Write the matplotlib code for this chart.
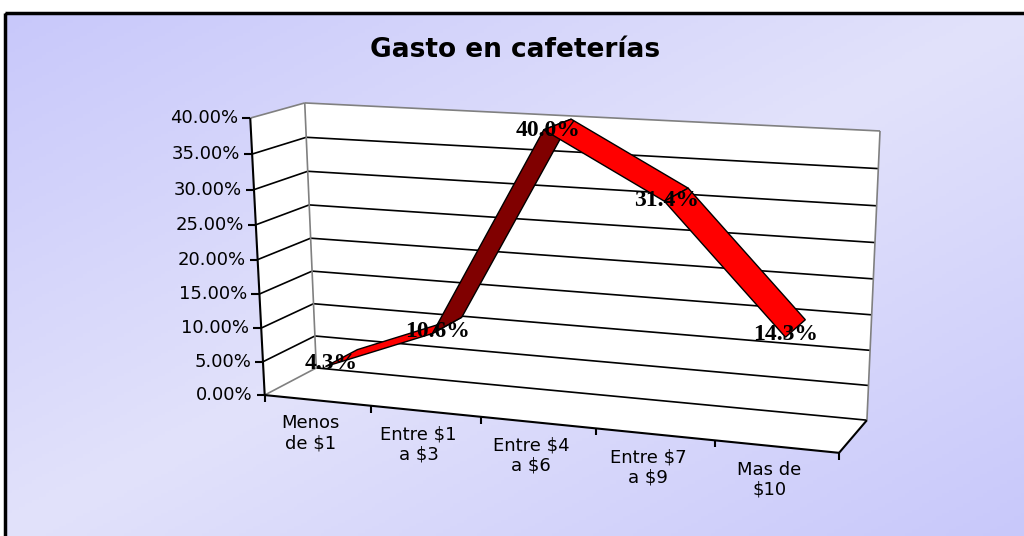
import numpy as np
import matplotlib.pyplot as plt
from matplotlib.patches import Polygon, Rectangle

categorias = ['Menos\nde $1', 'Entre $1\na $3', 'Entre $4\na $6', 'Entre $7\na $9', 'Mas de\n$10']
porcentajes = [4.3, 10.6, 40.0, 31.4, 14.3]
etiquetas = ['4.3%', '10.6%', '40.0%', '31.4%', '14.3%']
ticks_y = [0, 5, 10, 15, 20, 25, 30, 35, 40]
etiquetas_y = ['0.00%', '5.00%', '10.00%', '15.00%', '20.00%', '25.00%', '30.00%', '35.00%', '40.00%']
ymax = 40.0

# caja 3D: x 0-1 (categorias), y 0-1 (valor/ymax), z 0 frente - 1 fondo
# y donde caen sus esquinas en la imagen (pixeles)
esquinas_3d = np.array([[0, 0, 0], [0, 1, 0], [1, 0, 0], [0, 0, 1],
                        [0, 1, 1], [1, 0, 1], [1, 1, 1]], float)
esquinas_px = np.array([[265, 395], [250, 118], [839, 453], [316, 368],
                        [305, 103], [867, 420], [880, 131]], float)

# camara por DLT
A = []
for (X, Y, Z), (u, v) in zip(esquinas_3d, esquinas_px):
    A.append([X, Y, Z, 1, 0, 0, 0, 0, -u*X, -u*Y, -u*Z, -u])
    A.append([0, 0, 0, 0, X, Y, Z, 1, -v*X, -v*Y, -v*Z, -v])
P = np.linalg.svd(np.array(A))[2][-1].reshape(3, 4)


def proj(x, y, z):
    h = P @ np.array([x, y, z, 1.0])
    return h[0] / h[2], h[1] / h[2]


fig = plt.figure(figsize=(10.24, 5.36), dpi=100)
ax = fig.add_axes([0, 0, 1, 1])
ax.set_xlim(0, 1024)
ax.set_ylim(536, 0)
ax.axis('off')

# fondo degradado del area del grafico
oscuro = np.array([200, 200, 250]) / 255
claro = np.array([226, 226, 250]) / 255
gx, gy = np.meshgrid(np.linspace(0, 1, 300), np.linspace(0, 1, 160))
t = 1 - np.abs(gx + gy - 1)
img = oscuro + (claro - oscuro) * t[..., None]
ax.imshow(img, extent=(5, 1024, 536, 13), aspect='auto', zorder=0)
ax.add_patch(Rectangle((5, 13), 1040, 560, fill=False, lw=2.5, ec='black', zorder=10))

# paredes
piso = [proj(0, 0, 0), proj(1, 0, 0), proj(1, 0, 1), proj(0, 0, 1)]
lateral = [proj(0, 0, 0), proj(0, 1, 0), proj(0, 1, 1), proj(0, 0, 1)]
fondo = [proj(0, 0, 1), proj(1, 0, 1), proj(1, 1, 1), proj(0, 1, 1)]
for pared in (piso, lateral, fondo):
    ax.add_patch(Polygon(pared, closed=True, fc='white', ec='none', zorder=1))


def linea(a, b, color='black', lw=1.2, z=2):
    ax.plot([a[0], b[0]], [a[1], b[1]], color=color, lw=lw, zorder=z, solid_capstyle='butt')


# lineas de division
for v in ticks_y:
    yy = v / ymax
    if 0 < v < ymax:
        linea(proj(0, yy, 0), proj(0, yy, 1))
        linea(proj(0, yy, 1), proj(1, yy, 1))
linea(proj(0, 0, 1), proj(1, 0, 1))
gris = '#808080'
linea(proj(0, 0, 0), proj(0, 0, 1), gris)
linea(proj(0, 1, 0), proj(0, 1, 1), gris)
linea(proj(0, 1, 1), proj(1, 1, 1), gris)
linea(proj(0, 0, 1), proj(0, 1, 1), gris)
linea(proj(1, 0, 1), proj(1, 1, 1), gris)

# ejes
linea(proj(0, 0, 0), proj(0, 1, 0), lw=1.5, z=3)
linea(proj(0, 0, 0), proj(1, 0, 0), lw=1.5, z=3)
linea(proj(1, 0, 0), proj(1, 0, 1), lw=1.5, z=3)

for v, lab in zip(ticks_y, etiquetas_y):
    px, py = proj(0, v / ymax, 0)
    linea((px - 8, py), (px, py), lw=1.5, z=3)
    ax.text(px - 12, py, lab, ha='right', va='center', fontsize=13, color='black')

n = len(categorias)
for k in range(n + 1):
    px, py = proj(k / n, 0, 0)
    linea((px, py), (px, py + 7), lw=1.5, z=3)
for i, cat in enumerate(categorias):
    px, py = proj((i + 0.5) / n, 0, 0)
    ax.text(px - 7, py + 14, cat, ha='center', va='top', fontsize=13,
            linespacing=1.15, multialignment='center')

# cinta de la serie
za, zb = 0.18, 0.82
rojo, rojo_osc = '#ff0000', '#800000'


def area(pts):
    pts = np.array(pts)
    x, y = pts[:, 0], pts[:, 1]
    return 0.5 * np.sum(x * np.roll(y, -1) - np.roll(x, -1) * y)


for i in range(n - 1):
    x0, x1 = (i + 0.5) / n, (i + 1.5) / n
    y0, y1 = porcentajes[i] / ymax, porcentajes[i + 1] / ymax
    quad = [proj(x0, y0, za), proj(x1, y1, za), proj(x1, y1, zb), proj(x0, y0, zb)]
    ref = [proj(x0, y0, za), proj(x1, y0, za), proj(x1, y0, zb), proj(x0, y0, zb)]
    color = rojo if np.sign(area(quad)) == np.sign(area(ref)) else rojo_osc
    ax.add_patch(Polygon(quad, closed=True, fc=color, ec='black', lw=1.0, zorder=4 + i))

for i, lab in enumerate(etiquetas):
    px, py = proj((i + 0.5) / n, porcentajes[i] / ymax, 0.5)
    ax.text(px - 10, py + 6, lab, ha='center', va='center', fontsize=17,
            fontweight='bold', family='Liberation Serif', zorder=9)

ax.text(515, 50, 'Gasto en cafeterías', ha='center', va='center', fontsize=19,
        fontweight='bold', zorder=9)

plt.savefig('out.png', dpi=100)
